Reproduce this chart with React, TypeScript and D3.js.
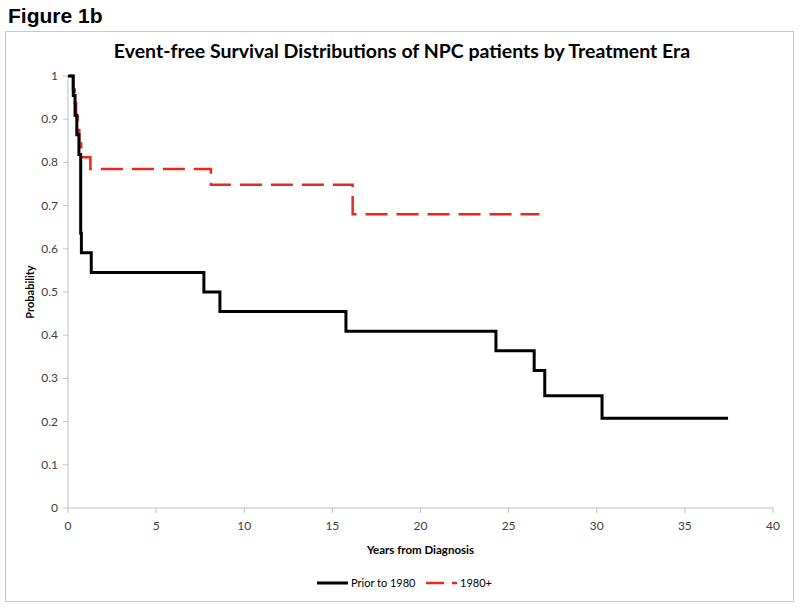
import React from "react";
import * as d3 from "d3";

// Prior to 1980: time of each drop (years) and survival level after it
const priorTimes = [0, 0.3, 0.4, 0.5, 0.62, 0.72, 0.76, 1.32, 7.71, 8.62, 15.77, 24.28, 26.45, 27.05, 30.3];
const priorProb = [1, 0.955, 0.909, 0.864, 0.818, 0.636, 0.591, 0.545, 0.5, 0.455, 0.409, 0.364, 0.318, 0.26, 0.208];
const priorEnd = 37.45;

// 1980+
const modernTimes = [0.1, 0.28, 0.38, 0.46, 0.55, 0.64, 0.75, 1.27, 8.11, 16.15];
const modernProb = [1, 0.969, 0.938, 0.906, 0.875, 0.844, 0.812, 0.785, 0.748, 0.68];
const modernEnd = 26.75;

const xTicks = [0, 5, 10, 15, 20, 25, 30, 35, 40];
const yTicks = [0, 0.1, 0.2, 0.3, 0.4, 0.5, 0.6, 0.7, 0.8, 0.9, 1];

const seriesNames = ["Prior to 1980", "1980+"];

function stepPoints(times: number[], probs: number[], end: number): [number, number][] {
  const pts: [number, number][] = times.map((t, i) => [t, probs[i]]);
  pts.push([end, probs[probs.length - 1]]);
  return pts;
}

export default function App() {
  const W = 800;
  const H = 608;
  const x = d3.scaleLinear().domain([0, 40]).range([68, 773]);
  const y = d3.scaleLinear().domain([0, 1]).range([508, 76]);
  const line = d3
    .line<[number, number]>()
    .x((d) => x(d[0]))
    .y((d) => y(d[1]))
    .curve(d3.curveStepAfter);

  const priorPts = stepPoints(priorTimes, priorProb, priorEnd);
  const modernPts = stepPoints(modernTimes, modernProb, modernEnd);

  const axisColor = "#bfbfbf";
  const labelColor = "#404040";
  const font = "Lato, 'Open Sans', sans-serif";

  return (
    <svg
      width={W}
      height={H}
      style={{ position: "absolute", left: 0, top: 0, background: "#fff" }}
    >
      <text
        x={8}
        y={23}
        fontFamily="'Liberation Sans', Arial, sans-serif"
        fontWeight="bold"
        fontSize={21}
        fill="#000"
      >
        Figure 1b
      </text>
      <rect x={5.5} y={31.5} width={788} height={570} fill="none" stroke="#c8c8c8" strokeWidth={1} />
      <text
        x={402}
        y={58}
        textAnchor="middle"
        fontFamily={font}
        fontWeight="bold"
        fontSize={19.5}
        fill="#000"
      >
        Event-free Survival Distributions of NPC patients by Treatment Era
      </text>

      {/* y axis */}
      <line x1={x(0)} x2={x(0)} y1={y(1)} y2={y(0)} stroke={axisColor} strokeWidth={1} />
      {yTicks.map((t) => (
        <g key={"y" + t}>
          <line x1={x(0) - 5} x2={x(0)} y1={y(t)} y2={y(t)} stroke={axisColor} strokeWidth={1} />
          <text
            x={x(0) - 10}
            y={y(t) + 4}
            textAnchor="end"
            fontFamily={font}
            fontSize={12}
            fill={labelColor}
          >
            {String(t)}
          </text>
        </g>
      ))}
      {/* x axis */}
      <line x1={x(0)} x2={x(40)} y1={y(0)} y2={y(0)} stroke={axisColor} strokeWidth={1} />
      {xTicks.map((t) => (
        <g key={"x" + t}>
          <line x1={x(t)} x2={x(t)} y1={y(0)} y2={y(0) + 5} stroke={axisColor} strokeWidth={1} />
          <text
            x={x(t)}
            y={y(0) + 22}
            textAnchor="middle"
            fontFamily={font}
            fontSize={12}
            fill={labelColor}
          >
            {String(t)}
          </text>
        </g>
      ))}

      <text
        x={(x(0) + x(40)) / 2}
        y={554}
        textAnchor="middle"
        fontFamily={font}
        fontWeight="bold"
        fontSize={11.5}
        fill="#000"
      >
        Years from Diagnosis
      </text>
      <text
        transform={`translate(34, ${(y(0) + y(1)) / 2}) rotate(-90)`}
        textAnchor="middle"
        fontFamily={font}
        fontWeight="bold"
        fontSize={11}
        fill="#000"
      >
        Probability
      </text>

      <path d={line(modernPts) || ""} fill="none" stroke="#e8291c" strokeWidth={2.5} strokeDasharray="22,9" />
      <path d={line(priorPts) || ""} fill="none" stroke="#000" strokeWidth={3} />

      {/* legend */}
      <line x1={317} x2={348} y1={583} y2={583} stroke="#000" strokeWidth={3} />
      <text x={351} y={587} fontFamily={font} fontSize={11} fill="#000">
        {seriesNames[0]}
      </text>
      <line x1={426} x2={457} y1={583} y2={583} stroke="#e8291c" strokeWidth={2.5} strokeDasharray="18,8" />
      <text x={460} y={587} fontFamily={font} fontSize={11} fill="#000">
        {seriesNames[1]}
      </text>
    </svg>
  );
}
